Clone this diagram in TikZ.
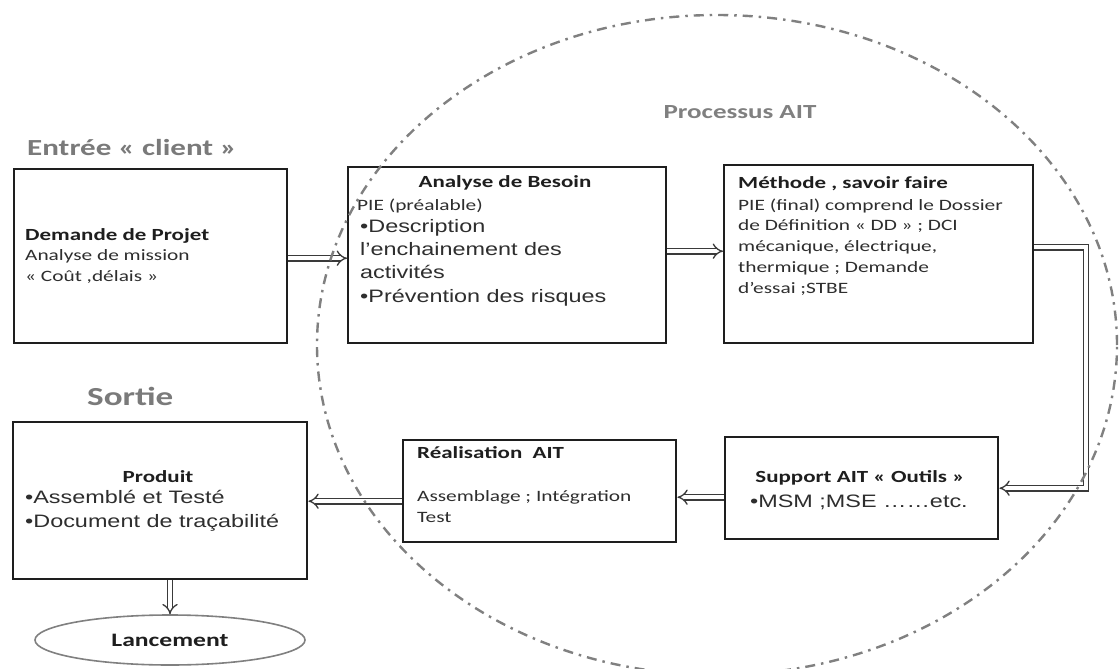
\documentclass[tikz,border=0pt]{standalone}
\usepackage{fontspec}
\setmainfont{Carlito}[FakeStretch=1.35]
\newfontfamily\arialf{Liberation Sans}[FakeStretch=1.3]
\usetikzlibrary{arrows.meta,shapes.geometric}
\definecolor{ink}{HTML}{1E1E1E}
\definecolor{body}{HTML}{2E2E2E}
\definecolor{label}{HTML}{7A7A7A}
\definecolor{ring}{HTML}{808080}
\definecolor{flowc}{HTML}{3A3A3A}
\begin{document}
\begin{tikzpicture}[x=1pt,y=-1pt,
  box/.style={draw=ink, line width=2.4pt, anchor=north west, inner sep=0pt},
  flow/.style={draw=flowc, line width=1.3pt, double=white, double distance=4pt, line join=miter, -{Implies}},
  title/.style={font=\bfseries\fontsize{17}{20.5}\selectfont, text=ink, inner sep=0pt},
  bodytxt/.style={font=\fontsize{15.8}{20.7}\selectfont, text=body, inner sep=0pt, anchor=base west, align=left},
  bullets/.style={font=\arialf\fontsize{18}{23.3}\selectfont, text=body, inner sep=0pt, anchor=base west, align=left},
  tag/.style={font=\bfseries, text=label, inner sep=0pt},
  ringline/.style={draw=ring, line width=2.4pt, dash pattern=on 10pt off 6pt on 2.5pt off 6pt}
]
\useasboundingbox (0,0) rectangle (1119,669);
\fill[white] (0,0) rectangle (1119,669);

% section labels
\node[tag, anchor=base west, font=\bfseries\fontsize{23}{26}\selectfont] (entree) at (27,155) {Entrée « client »};
\node[tag, anchor=base west, font=\bfseries\fontsize{26}{30}\selectfont] (sortie) at (87,405) {Sortie};
\node[tag, anchor=base, text=ring, font=\bfseries\fontsize{20}{24}\selectfont] (processus) at (740,118) {Processus AIT};

% process boxes
\node[box, minimum width=273pt, minimum height=174pt] (demande) at (13,168) {};
\node[box, minimum width=318pt, minimum height=176pt] (besoin) at (347,166) {};
\node[box, minimum width=309pt, minimum height=178pt] (methode) at (723,164) {};
\node[box, minimum width=273pt, minimum height=102pt] (support) at (724,436) {};
\node[box, minimum width=273pt, minimum height=102pt] (realis) at (402,439) {};
\node[box, minimum width=294pt, minimum height=157pt] (produit) at (12,421) {};
\node[draw=ring, line width=1.6pt, ellipse, minimum width=270pt, minimum height=50pt, inner sep=0pt,
      font=\bfseries\fontsize{19}{22}\selectfont, text=ink] (lancement) at (170,640) {Lancement};

% box contents (multi-line blocks are placed by the baseline of their last line)
\node[title, anchor=base west] (t1) at (25,240) {Demande de Projet};
\node[bodytxt] (b1) at (25,281) {Analyse de mission\\« Coût ,délais »};

\node[title, anchor=base] (t2) at (505,187) {Analyse de Besoin};
\node[bodytxt] (b2) at (357,210) {PIE (préalable)};
\node[bullets] (l2) at (360,302) {•Description\\l’enchainement des\\activités\\•Prévention des risques};

\node[title, anchor=base west] (t3) at (738,188) {Méthode , savoir faire};
\node[bodytxt] (b3) at (738,293) {PIE (final) comprend le Dossier\\de Définition « DD » ; DCI\\mécanique, électrique,\\thermique ; Demande\\d’essai ;STBE};

\node[title, anchor=base] (t4) at (860,482) {Support AIT « Outils »};
\node[bullets] (l4) at (750,507) {•MSM ;MSE ……etc.};

\node[title, anchor=base west] (t5) at (417,458) {Réalisation\ \ AIT};
\node[bodytxt] (b5) at (417,522) {Assemblage ; Intégration\\Test};

\node[title, anchor=base] (t6) at (158,482) {Produit};
\node[bullets] (l6) at (25,527) {•Assemblé et Testé\\•Document de traçabilité};

% flow connectors
\coordinate (bend) at (1086,0);
\draw[flow] ([yshift=-2pt]demande.east) -- ([yshift=-2pt]demande.east -| besoin.west);
\draw[flow] ([yshift=4pt]besoin.east) -- ([yshift=4pt]besoin.east -| methode.west);
\draw[flow] ([yshift=7pt]methode.east) -| (bend |- support.east) -- (support.east);
\draw[flow] ([yshift=-9pt]support.west) -- ([yshift=-9pt]support.west -| realis.east);
\draw[flow] ([yshift=-10pt]realis.west) -- ([yshift=-10pt]realis.west -| produit.east);
\draw[flow] (lancement.north |- produit.south) -- (lancement.north);

% AIT process boundary
\draw[ringline] (717,345) ellipse [x radius=400pt, y radius=330pt];
\end{tikzpicture}
\end{document}
